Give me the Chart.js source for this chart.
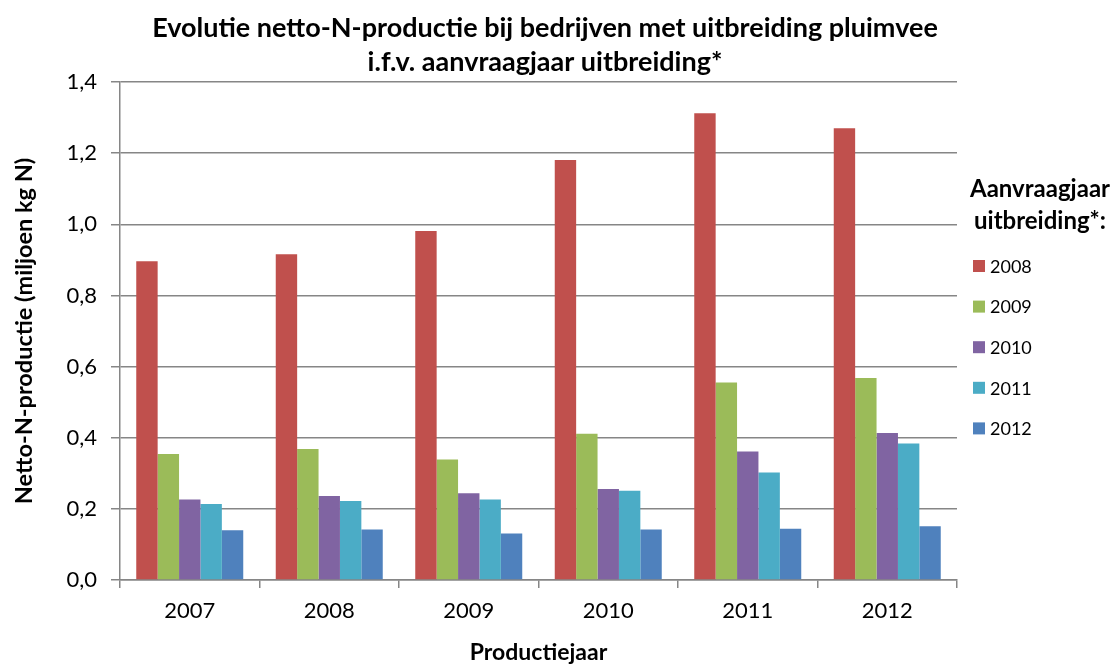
<!DOCTYPE html>
<html lang="nl">
<head>
<meta charset="utf-8">
<title>Evolutie netto-N-productie</title>
<script src="https://cdn.jsdelivr.net/npm/chart.js@4/dist/chart.umd.min.js"></script>
<style>
    html, body { margin: 0; padding: 0; background: #fff; }
    #wrap { width: 1114px; height: 666px; }
</style>
</head>
<body>
<div id="wrap"><canvas id="chart" width="1114" height="666"></canvas></div>
<script>
'use strict';

// productiejaren (x-as)
const productiejaren = ['2007', '2008', '2009', '2010', '2011', '2012'];

// netto-N-productie (miljoen kg N) per aanvraagjaar uitbreiding
const aanvraag2008 = [0.896, 0.916, 0.981, 1.181, 1.312, 1.270];
const aanvraag2009 = [0.354, 0.368, 0.339, 0.411, 0.555, 0.568];
const aanvraag2010 = [0.226, 0.236, 0.244, 0.256, 0.361, 0.413];
const aanvraag2011 = [0.214, 0.222, 0.226, 0.251, 0.302, 0.384];
const aanvraag2012 = [0.140, 0.142, 0.131, 0.142, 0.144, 0.151];

const reeksLabels = ['2008', '2009', '2010', '2011', '2012'];
const reeksKleuren = ['#C0504D', '#9BBB59', '#8064A2', '#4BACC6', '#4F81BD'];

const titelRegels = ['Evolutie netto-N-productie bij bedrijven met uitbreiding pluimvee', 'i.f.v. aanvraagjaar uitbreiding*'];
const legendaTitel = ['Aanvraagjaar', 'uitbreiding*:'];

const FONT = 'Lato, "Open Sans", sans-serif';
const GRID = '#868686';

const reeksen = [aanvraag2008, aanvraag2009, aanvraag2010, aanvraag2011, aanvraag2012];

// titel + legenda worden zelf getekend, zodat de plotzone exact blijft
const extraTekst = {
    id: 'extraTekst',
    afterDraw(chart) {
        const ctx = chart.ctx;
        ctx.save();
        ctx.fillStyle = '#000';
        ctx.textAlign = 'center';
        ctx.textBaseline = 'middle';
        ctx.font = `bold 27px ${FONT}`;
        ctx.fillText(titelRegels[0], 545, 28);
        ctx.fillText(titelRegels[1], 545, 62);

        ctx.font = `bold 24px ${FONT}`;
        ctx.fillText(legendaTitel[0], 1040, 189);
        ctx.fillText(legendaTitel[1], 1040, 221);

        ctx.textAlign = 'left';
        ctx.font = `18px ${FONT}`;
        chart.data.datasets.forEach((ds, i) => {
            const y = 266 + i * 40.6;
            ctx.fillStyle = ds.backgroundColor;
            ctx.fillRect(973, y - 6, 12, 12);
            ctx.fillStyle = '#000';
            ctx.fillText(ds.label, 990, y + 1);
        });
        ctx.restore();
    }
};

new Chart(document.getElementById('chart'), {
    type: 'bar',
    data: {
        labels: productiejaren,
        datasets: reeksen.map((data, i) => ({
            label: reeksLabels[i],
            data,
            backgroundColor: reeksKleuren[i],
            borderWidth: 0,
            categoryPercentage: 0.767,
            barPercentage: 1.0
        }))
    },
    options: {
        responsive: false,
        animation: false,
        layout: { padding: { top: 82, right: 157, left: 0, bottom: 0 } },
        plugins: {
            legend: { display: false },
            title: { display: false },
            tooltip: { enabled: false }
        },
        scales: {
            x: {
                afterFit: (s) => { s.height = 86; },
                grid: { offset: true, drawOnChartArea: false, drawTicks: true, tickLength: 8, color: GRID, lineWidth: 1.5 },
                border: { display: true, color: GRID, width: 1.5 },
                ticks: { color: '#000', font: { family: FONT, size: 22 }, padding: 10 },
                title: { display: true, text: 'Productiejaar', color: '#000', font: { family: FONT, size: 23, weight: 'bold' }, padding: { top: 0, bottom: 0 } }
            },
            y: {
                min: 0,
                max: 1.4,
                afterFit: (s) => { s.width = 120; },
                grid: { color: GRID, lineWidth: 1.5, drawTicks: true, tickLength: 9 },
                border: { display: true, color: GRID, width: 1.5 },
                ticks: {
                    stepSize: 0.2,
                    color: '#000',
                    font: { family: FONT, size: 22 },
                    padding: 14,
                    callback: (v) => v.toFixed(1).replace('.', ',')
                },
                title: { display: true, text: 'Netto-N-productie (miljoen kg N)', color: '#000', font: { family: FONT, size: 23.5, weight: 'bold' }, padding: { top: 10, bottom: 0 } }
            }
        }
    },
    plugins: [extraTekst]
});
</script>
</body>
</html>
